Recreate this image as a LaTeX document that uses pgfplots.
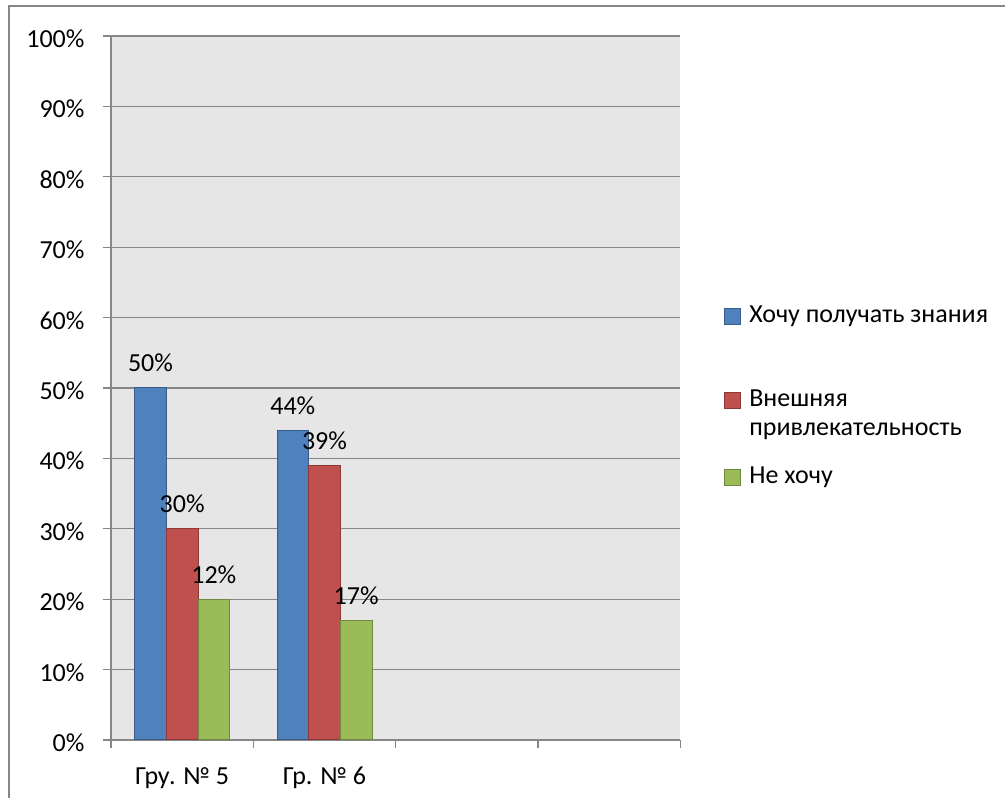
\documentclass[border=0pt]{standalone}
\usepackage{fontspec}
\setmainfont{Carlito}
\usepackage{pgfplots}
\pgfplotsset{compat=1.18}
\definecolor{cblue}{RGB}{79,129,189}
\definecolor{cbluedk}{RGB}{56,93,138}
\definecolor{cred}{RGB}{192,80,77}
\definecolor{creddk}{RGB}{140,56,54}
\definecolor{cgreen}{RGB}{155,187,89}
\definecolor{cgreendk}{RGB}{113,137,63}
\definecolor{bggray}{RGB}{230,230,230}
\definecolor{linegray}{RGB}{134,134,134}
% square legend image; the invisible path sets the height/depth of the legend row
\pgfplotsset{
  sq legend/.style 2 args={legend image code/.code={%
    \draw[##1] (0pt,-1.5pt) rectangle (12pt,10.5pt);
    \path (0pt,-#1) (0pt,#2);}},
}
\begin{document}
\fontsize{19.5pt}{21.2pt}\selectfont
\begin{tikzpicture}
\useasboundingbox (0,0) rectangle (753.75pt,598.5pt);
% outer chart frame (right and bottom edges fall outside the picture)
\draw[linegray, line width=1.5pt] (6.75pt,-10pt) |- (780pt,594pt);
\begin{axis}[
    at={(83.25pt,43.5pt)}, anchor=south west,
    scale only axis,
    width=427pt, height=528pt,
    ybar=0pt, bar width=23.75pt,
    xmin=-0.5, xmax=3.5,
    ymin=0, ymax=100,
    axis x line*=bottom, axis y line*=left,
    axis line style={linegray, line width=0.9pt},
    axis background/.style={fill=bggray},
    ymajorgrids, grid style={linegray, line width=0.9pt},
    tick align=outside,
    xtick pos=bottom, ytick pos=left,
    xtick={0,1}, xticklabels={Гру. № 5, Гр. № 6},
    major x tick style={draw=none},
    minor xtick={-0.5,0.5,1.5,2.5,3.5},
    minor x tick style={linegray, line width=0.9pt},
    minor tick length=6pt, major tick length=6.2pt,
    ytick={0,10,...,100},
    yticklabels={0\%,10\%,20\%,30\%,40\%,50\%,60\%,70\%,80\%,90\%,100\%},
    ytick style={linegray, line width=0.9pt},
    /pgf/number format/assume math mode=true,
    xticklabel style={anchor=base, yshift=-27pt, inner sep=0pt, text=black},
    yticklabel style={anchor=east, inner sep=0pt, xshift=-13.5pt, yshift=-2pt, text=black},
    nodes near coords,
    point meta=explicit symbolic,
    every node near coord/.append style={anchor=base, yshift=12pt, inner sep=0pt, text=black},
    legend style={draw=none, fill=none, inner sep=0pt,
        at={(1.0756,0.6212)}, anchor=north west,
        column sep=4.5pt, row sep=0pt,
        cells={anchor=base west, inner sep=0pt}},
]
\addplot[fill=cblue, draw=cbluedk, line width=0.75pt, sq legend={46.3pt}{13pt}]
  coordinates {(0,50) [50\%] (1,44) [44\%]};
\addplot[fill=cred, draw=creddk, line width=0.75pt, sq legend={42pt}{15pt}]
  coordinates {(0,30) [30\%] (1,39) [39\%]};
\addplot[fill=cgreen, draw=cgreendk, line width=0.75pt, sq legend={5pt}{15pt}]
  coordinates {(0,20) [12\%] (1,17) [17\%]};
\legend{Хочу получать знания,
  \begin{tabular}[t]{@{}l@{}}Внешняя\\привлекательность\end{tabular},
  Не хочу}
\end{axis}
\end{tikzpicture}
\end{document}
